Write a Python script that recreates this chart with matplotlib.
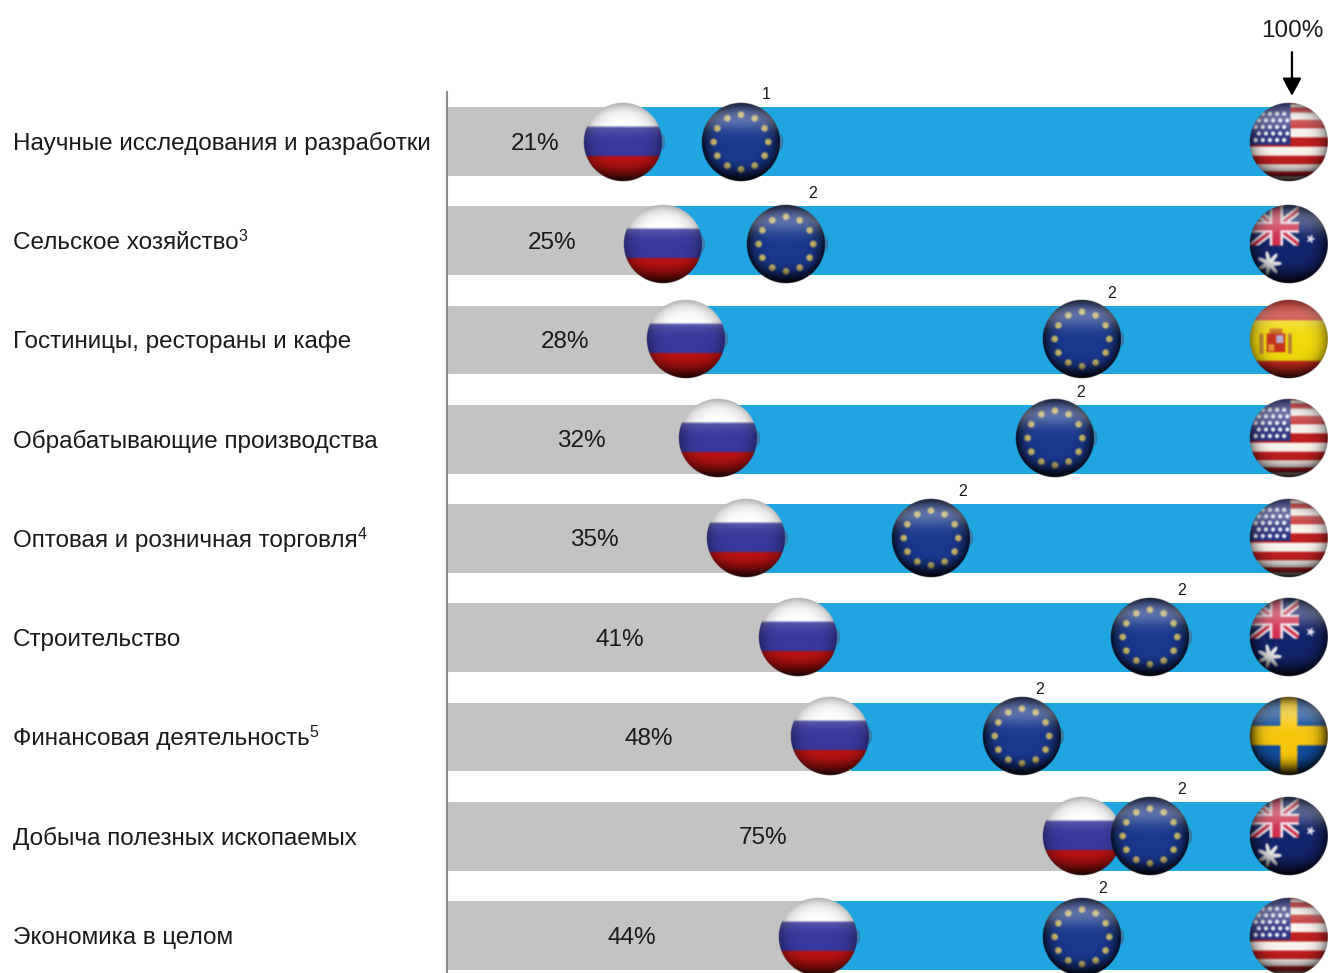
from __future__ import annotations

import matplotlib

matplotlib.use("Agg")
import matplotlib.pyplot as plt
import numpy as np

categories = [
    "Научные исследования и разработки",
    "Сельское хозяйство",
    "Гостиницы, рестораны и кафе",
    "Обрабатывающие производства",
    "Оптовая и розничная торговля",
    "Строительство",
    "Финансовая деятельность",
    "Добыча полезных ископаемых",
    "Экономика в целом",
]
category_notes = ["", "3", "", "", "4", "", "5", "", ""]
russia_values = [21, 25, 28, 32, 35, 41, 48, 75, 44]
russia_markers = [20.9, 25.6, 28.3, 32.2, 35.5, 41.6, 45.4, 75.4, 44.0]
eu_values = [34.9, 40.2, 75.4, 72.2, 57.4, 83.4, 68.2, 83.4, 75.4]
eu_notes = ["1", "2", "2", "2", "2", "2", "2", "2", "2"]
leaders = ["usa", "australia", "spain", "usa", "usa", "australia", "sweden", "australia", "usa"]

# figure layout, in pixels at dpi=100
WIDTH, HEIGHT = 1328, 973
AX_LEFT, AX_TOP = 447, 92
PX_PER_PCT = 8.42
ROW_PX = 99.25
FIRST_ROW_PX = 141.5
RADIUS_PX = 39.0
PAD = 1.12
TEXT_DROP = 2 / ROW_PX
# sphere centres sit slightly off the row centre, footnotes drift around the EU sphere
flag_shift_px = [0.5, 3.5, -1, -1, -0.5, -0.5, -1, 0, 1.5]
note_shift_px = [25, 27, 30, 26, 32, 32, 18, 32, 21]
rim_strength = {"russia": 0.35, "eu": 0.8, "usa": 0.5, "australia": 0.7, "spain": 0.45, "sweden": 0.75}


def star_mask(u, v, cx, cy, radius, points=7):
    theta = np.arctan2(v - cy, u - cx)
    dist = np.hypot(u - cx, v - cy)
    return dist < radius * (0.70 + 0.30 * np.cos(points * theta))


def soften(rgb: np.ndarray, width: int = 9) -> np.ndarray:
    """Small box blur, the flags are soft photographs rather than crisp vector art."""
    kernel = np.ones(width) / width
    out = rgb.copy()
    for channel in range(3):
        out[..., channel] = np.apply_along_axis(np.convolve, 0, out[..., channel], kernel, "same")
        out[..., channel] = np.apply_along_axis(np.convolve, 1, out[..., channel], kernel, "same")
    return out


def paint_flag(name: str, size: int = 320) -> np.ndarray:
    """Paint a flag on a shaded sphere and return it as an RGBA array."""
    axis = np.linspace(-PAD, PAD, size)
    u, v = np.meshgrid(axis, axis)
    r = np.hypot(u, v)
    rgb = np.zeros((size, size, 3))
    # flat flag coordinates, squeezed towards the rim of the sphere
    fv = np.arcsin(np.clip(v, -1, 1)) / (np.pi / 2)

    if name == "russia":
        rgb[:] = (0.22, 0.22, 0.62)
        rgb[v < -0.39] = (1.0, 1.0, 1.0)
        rgb[v > 0.36] = (0.72, 0.07, 0.07)
    elif name == "eu":
        rgb[:] = (0.10, 0.22, 0.56)
        for angle in np.deg2rad(np.arange(0, 360, 30)):
            dot = np.hypot(u - 0.70 * np.cos(angle), v - 0.70 * np.sin(angle)) < 0.085
            rgb[dot] = (0.85, 0.78, 0.45)
    elif name == "usa":
        stripe = np.floor((fv + 1) / 2 * 13).astype(int) % 2
        rgb[:] = (0.75, 0.12, 0.12)
        rgb[stripe == 1] = (0.98, 0.95, 0.93)
        canton = (u < 0.04) & (v < 0.08)
        rgb[canton] = (0.17, 0.20, 0.50)
        for row, cy in enumerate(np.linspace(-0.72, -0.05, 5)):
            for cx in np.linspace(-0.85, -0.12, 5) + (0.08 if row % 2 else 0):
                rgb[canton & (np.hypot(u - cx, v - cy) < 0.055)] = (0.92, 0.92, 0.97)
    elif name == "australia":
        rgb[:] = (0.07, 0.14, 0.42)
        ju, jv = u + 0.32, v + 0.43
        jack = (u < 0.26) & (v < 0.04)
        rgb[jack & (np.abs(ju - jv * 1.3) < 0.16)] = (0.95, 0.90, 0.92)
        rgb[jack & (np.abs(ju + jv * 1.3) < 0.16)] = (0.95, 0.90, 0.92)
        rgb[jack & (np.abs(ju - jv * 1.3) < 0.06)] = (0.80, 0.15, 0.25)
        rgb[jack & (np.abs(ju + jv * 1.3) < 0.06)] = (0.80, 0.15, 0.25)
        rgb[jack & ((np.abs(ju) < 0.17) | (np.abs(jv) < 0.14))] = (0.95, 0.88, 0.90)
        rgb[jack & ((np.abs(ju) < 0.10) | (np.abs(jv) < 0.08))] = (0.82, 0.18, 0.30)
        rgb[star_mask(u, v, -0.50, 0.50, 0.32)] = (0.92, 0.92, 0.92)
        rgb[star_mask(u, v, 0.56, -0.13, 0.11, points=5)] = (0.95, 0.95, 1.0)
    elif name == "spain":
        rgb[:] = (0.95, 0.85, 0.05)
        rgb[(v < -0.48) | (v > 0.56)] = (0.80, 0.16, 0.12)
        # coat of arms: pillars, crown, shield
        rgb[(np.abs(u + 0.70) < 0.05) & (np.abs(v - 0.12) < 0.26)] = (0.72, 0.50, 0.22)
        rgb[(np.abs(u - 0.03) < 0.05) & (np.abs(v - 0.12) < 0.26)] = (0.72, 0.50, 0.22)
        rgb[(np.abs(u + 0.33) < 0.16) & (np.abs(v + 0.20) < 0.07)] = (0.78, 0.45, 0.12)
        rgb[(np.abs(u + 0.33) < 0.24) & (np.abs(v - 0.10) < 0.24)] = (0.78, 0.20, 0.12)
        rgb[(np.abs(u + 0.23) < 0.09) & (np.abs(v - 0.00) < 0.10)] = (0.72, 0.68, 0.80)
        rgb[(np.abs(u + 0.45) < 0.08) & (np.abs(v - 0.22) < 0.09)] = (0.92, 0.60, 0.20)
    elif name == "sweden":
        rgb[:] = (0.07, 0.30, 0.62)
        cross = (np.abs(u) < 0.22) | (np.abs(v + 0.01) < 0.25)
        rgb[cross] = (0.97, 0.78, 0.05)

    rgb = soften(rgb)

    # darken towards the rim and the underside, brighten the upper cap
    rim = 1 - rim_strength[name] * np.clip(r, 0, 1) ** 5
    under = 1 - 0.80 * np.clip((v - 0.45) / 0.55, 0, 1) ** 1.6
    rgb = rgb * (rim * under)[..., None]
    cap = (0.30 * np.exp(-(((v + 0.62) / 0.32) ** 2)))[..., None]
    rgb = rgb + (1 - rgb) * cap

    alpha = np.clip((1 - r) * size / (2 * PAD) / 3 + 0.5, 0, 1)
    if name in ("russia", "eu"):
        # small soft bump peeking out on the right of the sphere
        bump = np.hypot((u - 0.98) / 0.09, v / 0.20) < 1
        rgb[bump & (r >= 1)] = (0.30, 0.45, 0.60)
        alpha = np.where(bump & (r >= 1), 0.75, alpha)
    return np.dstack([rgb, alpha])


plt.rcParams["font.family"] = ["Liberation Sans", "DejaVu Sans"]

fig = plt.figure(figsize=(WIDTH / 100, HEIGHT / 100), dpi=100)
ax = fig.add_axes([AX_LEFT / WIDTH, 0, 1 - AX_LEFT / WIDTH, 1 - AX_TOP / HEIGHT])

rows = np.arange(len(categories))
blue_width = 100 - np.array(russia_values)
ax.barh(rows, russia_values, height=0.695, color="#C3C3C3", zorder=1)
ax.barh(rows, blue_width, left=russia_values, height=0.695, color="#21A5E0", zorder=1)

flags = {name: paint_flag(name) for name in set(leaders) | {"russia", "eu"}}
half_w = RADIUS_PX * PAD / PX_PER_PCT
half_h = RADIUS_PX * PAD / ROW_PX


def draw_flag(name, x, row, z):
    y = row + flag_shift_px[row] / ROW_PX
    ax.imshow(
        flags[name],
        extent=[x - half_w, x + half_w, y + half_h, y - half_h],
        aspect="auto",
        interpolation="antialiased",
        zorder=z,
        clip_on=False,
    )


for row in rows:
    draw_flag(leaders[row], 100, row, 3)
    draw_flag("russia", russia_markers[row], row, 3)
    draw_flag("eu", eu_values[row], row, 4)
    ax.text(russia_values[row] / 2, row + TEXT_DROP, f"{russia_values[row]}%", ha="center", va="center",
            fontsize=17.5, color="#1a1a1a", zorder=5)
    label = ax.text(-434 / PX_PER_PCT, row + TEXT_DROP, categories[row], ha="left", va="center",
                    fontsize=17.5, color="#1a1a1a", clip_on=False)
    if category_notes[row]:
        ax.annotate(category_notes[row], xy=(1, 1), xycoords=label, xytext=(0, 2),
                    textcoords="offset points", ha="left", va="top", fontsize=11.5, color="#1a1a1a")
    ax.annotate(eu_notes[row], (eu_values[row], row), xytext=(note_shift_px[row] * 0.72, 47 * 0.72),
                textcoords="offset points", ha="center", va="center", fontsize=11.5,
                color="#1a1a1a", annotation_clip=False, zorder=5)

ax.set_xlim(0, (WIDTH - AX_LEFT) / PX_PER_PCT)
ax.set_ylim((HEIGHT - FIRST_ROW_PX) / ROW_PX, (AX_TOP - FIRST_ROW_PX) / ROW_PX)
ax.set_xticks([])
ax.set_yticks([])
for side in ("top", "right", "bottom"):
    ax.spines[side].set_visible(False)
ax.spines["left"].set_color("#8c8c8c")
ax.spines["left"].set_linewidth(1.5)
ax.patch.set_alpha(0)

# benchmark marker above the top row
ax.text(100.35, -1.13 + TEXT_DROP, "100%", ha="center", va="center", fontsize=17.5, color="#1a1a1a", clip_on=False)
ax.annotate("", xy=(100.35, -0.46), xytext=(100.35, -0.90), annotation_clip=False,
            arrowprops=dict(arrowstyle="-|>,head_width=0.36,head_length=0.67", color="black",
                            lw=1.6, shrinkA=0, shrinkB=0, mutation_scale=16))

fig.savefig("out.png", dpi=100)
plt.close(fig)
